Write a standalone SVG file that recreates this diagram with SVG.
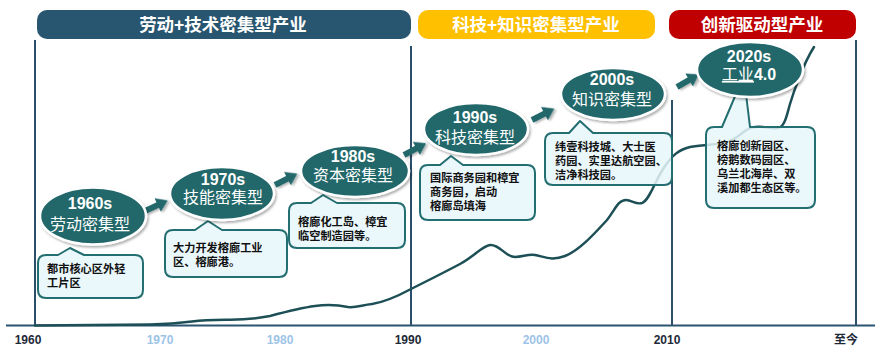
<svg xmlns="http://www.w3.org/2000/svg" width="886" height="360" viewBox="0 0 886 360">
<style>
.hdr{font-family:"Liberation Sans","Noto Sans CJK SC",sans-serif;font-size:17.5px;font-weight:bold;fill:#fff;text-anchor:middle}
.vl{stroke:#2A4F6B;stroke-width:2}
.ax{font-family:"Liberation Sans","Noto Sans CJK SC",sans-serif;font-size:12px;font-weight:bold;text-anchor:middle}
.dk{fill:#1E2A38}
.lt{fill:#9DC3E6}
.ell{fill:#21676B;stroke:#fff;stroke-width:2.5;filter:url(#sh)}
.et{font-family:"Liberation Sans","Noto Sans CJK SC",sans-serif;font-size:16px;fill:#fff;text-anchor:middle}
.yr{font-weight:bold}
.bub{fill:#E6F6FA;fill-opacity:0.85;stroke:#236E70;stroke-width:2;stroke-linejoin:round}
.bt{font-family:"Noto Sans CJK SC",sans-serif;font-size:11.2px;font-weight:bold;fill:#111}
.arr{fill:#21676B;filter:url(#sh)}
.curve{fill:none;stroke:#1D4F56;stroke-width:2.5;stroke-linecap:round}
</style>
<defs>
<filter id="sh" x="-20%" y="-20%" width="140%" height="150%">
<feDropShadow dx="1.5" dy="2" stdDeviation="1.2" flood-color="#000" flood-opacity="0.3"/>
</filter>
<polygon id="ar" points="0,-3 14,-3 14,-7.5 25,0 14,7.5 14,3 0,3"/>
</defs>
<rect width="886" height="360" fill="#fff"/>

<g id="headers">
<rect x="37" y="10" width="374" height="29" rx="10" fill="#28556F"/>
<text class="hdr" x="223" y="31">劳动+技术密集型产业</text>
<rect x="418" y="10" width="237" height="29" rx="10" fill="#FFC000"/>
<text class="hdr" x="536" y="31">科技+知识密集型产业</text>
<rect x="669" y="10" width="187" height="29" rx="10" fill="#C00000"/>
<text class="hdr" x="762" y="31">创新驱动型产业</text>
</g>

<g id="axis">
<line class="vl" x1="35" y1="40" x2="35" y2="325"/>
<line class="vl" x1="411" y1="46" x2="411" y2="325"/>
<line class="vl" x1="672" y1="100" x2="672" y2="325"/>
<line class="vl" x1="856" y1="40" x2="856" y2="325"/>
<line x1="6" y1="325.5" x2="875" y2="325.5" stroke="#2A5470" stroke-width="2"/>
<text class="ax dk" x="28" y="344">1960</text>
<text class="ax lt" x="160" y="344">1970</text>
<text class="ax lt" x="280" y="344">1980</text>
<text class="ax dk" x="408" y="344">1990</text>
<text class="ax lt" x="536" y="344">2000</text>
<text class="ax dk" x="667" y="344">2010</text>
<text class="ax dk" x="846" y="344">至今</text>
</g>

<g id="connectors">
<path class="curve" d="M35,325.5 L150,324.5 C170,324 180,323 192,321.5 C205,320 215,320 230,319.8 C250,319.5 260,318 270,316 C285,312 300,308 315,306 C330,304 338,305 348,307 C356,308 362,305 372,304 C385,302 398,296 411,289 C425,282 445,272 460,264 C475,256 482,246 490,245 C500,244 505,257 515,257 C523,257 527,254 535,255 C545,257 552,261 565,256 C580,250 595,233 607,220 C615,210 618,200 626,200 C632,200 636,205 642,203 C650,200 655,180 665,166 C672,156 678,150 690,147 C705,144 720,146 732,140 C742,135 745,128 755,127 C765,126 770,129 778,128 C785,127 787,114 790,104 C793,94 803,64 814,47"/>
<use href="#ar" class="arr" transform="translate(145,211) rotate(-25)"/>
<use href="#ar" class="arr" transform="translate(275,185) rotate(-27)"/>
<use href="#ar" class="arr" transform="translate(404,155) rotate(-28)"/>
<use href="#ar" class="arr" transform="translate(532,120) rotate(-27)"/>
<use href="#ar" class="arr" transform="translate(677,87) rotate(-30)"/>
</g>

<g id="n1960">
<path class="bub" d="M46,255 L58,255 L70,248 L84,255 L135,255 Q143,255 143,263 L143,290 Q143,298 135,298 L46,298 Q38,298 38,290 L38,263 Q38,255 46,255 Z"/>
<text class="bt" x="47" y="273">都市核心区外轻<tspan x="47" dy="14">工片区</tspan></text>
<ellipse class="ell" cx="93" cy="216" rx="53" ry="28.5"/>
<text class="et yr" x="90" y="209">1960s</text>
<text class="et" x="90" y="230">劳动密集型</text>
</g>

<g id="n1970">
<path class="bub" d="M173,230 L195,230 L208,221 L222,230 L279,230 Q287,230 287,238 L287,269 Q287,277 279,277 L173,277 Q165,277 165,269 L165,238 Q165,230 173,230 Z"/>
<text class="bt" x="173" y="252">大力开发榕廊工业<tspan x="173" dy="14">区、榕廊港。</tspan></text>
<ellipse class="ell" cx="222" cy="193.5" rx="52" ry="26.5"/>
<text class="et yr" x="223" y="185">1970s</text>
<text class="et" x="223" y="203">技能密集型</text>
</g>

<g id="n1980">
<path class="bub" d="M297,203 L311,203 L323,195 L337,203 L397,203 Q405,203 405,211 L405,240 Q405,248 397,248 L297,248 Q289,248 289,240 L289,211 Q289,203 297,203 Z"/>
<text class="bt" x="298" y="226">榕廊化工岛、樟宜<tspan x="298" dy="14">临空制造园等。</tspan></text>
<ellipse class="ell" cx="355" cy="171" rx="54" ry="26"/>
<text class="et yr" x="353" y="162">1980s</text>
<text class="et" x="353" y="181">资本密集型</text>
</g>

<g id="n1990">
<path class="bub" d="M428,165 L440,165 L451,156 L463,165 L527,165 Q535,165 535,173 L535,212 Q535,220 527,220 L428,220 Q420,220 420,212 L420,173 Q420,165 428,165 Z"/>
<text class="bt" x="430" y="182">国际商务园和樟宜<tspan x="430" dy="14">商务园，启动</tspan><tspan x="430" dy="14">榕廊岛填海</tspan></text>
<ellipse class="ell" cx="476" cy="129" rx="52" ry="26"/>
<text class="et yr" x="475" y="123">1990s</text>
<text class="et" x="475" y="143">科技密集型</text>
</g>

<g id="n2000">
<path class="bub" d="M553,133 L569,133 L580,121 L593,133 L664,133 Q672,133 672,141 L672,177 Q672,185 664,185 L553,185 Q545,185 545,177 L545,141 Q545,133 553,133 Z"/>
<text class="bt" x="555" y="151">纬壹科技城、大士医<tspan x="555" dy="14">药园、实里达航空园、</tspan><tspan x="555" dy="14">洁净科技园。</tspan></text>
<ellipse class="ell" cx="613" cy="94" rx="52" ry="26"/>
<text class="et yr" x="612" y="85">2000s</text>
<text class="et" x="612" y="105">知识密集型</text>
</g>

<g id="n2020">
<path class="bub" d="M714,127 L722,127 L736,94 L746,94 L750,127 L807,127 Q815,127 815,135 L815,200 Q815,208 807,208 L714,208 Q706,208 706,200 L706,135 Q706,127 714,127 Z"/>
<text class="bt" x="717" y="150">榕廊创新园区、<tspan x="717" dy="14">榜鹅数码园区、</tspan><tspan x="717" dy="14">乌兰北海岸、双</tspan><tspan x="717" dy="14">溪加都生态区等。</tspan></text>
<ellipse class="ell" cx="750" cy="69.5" rx="53" ry="27.5"/>
<text class="et yr" x="749" y="62">2020s</text>
<text class="et" x="749" y="80"><tspan text-decoration="underline">工业</tspan><tspan font-weight="bold">4.0</tspan></text>
</g>
</svg>
